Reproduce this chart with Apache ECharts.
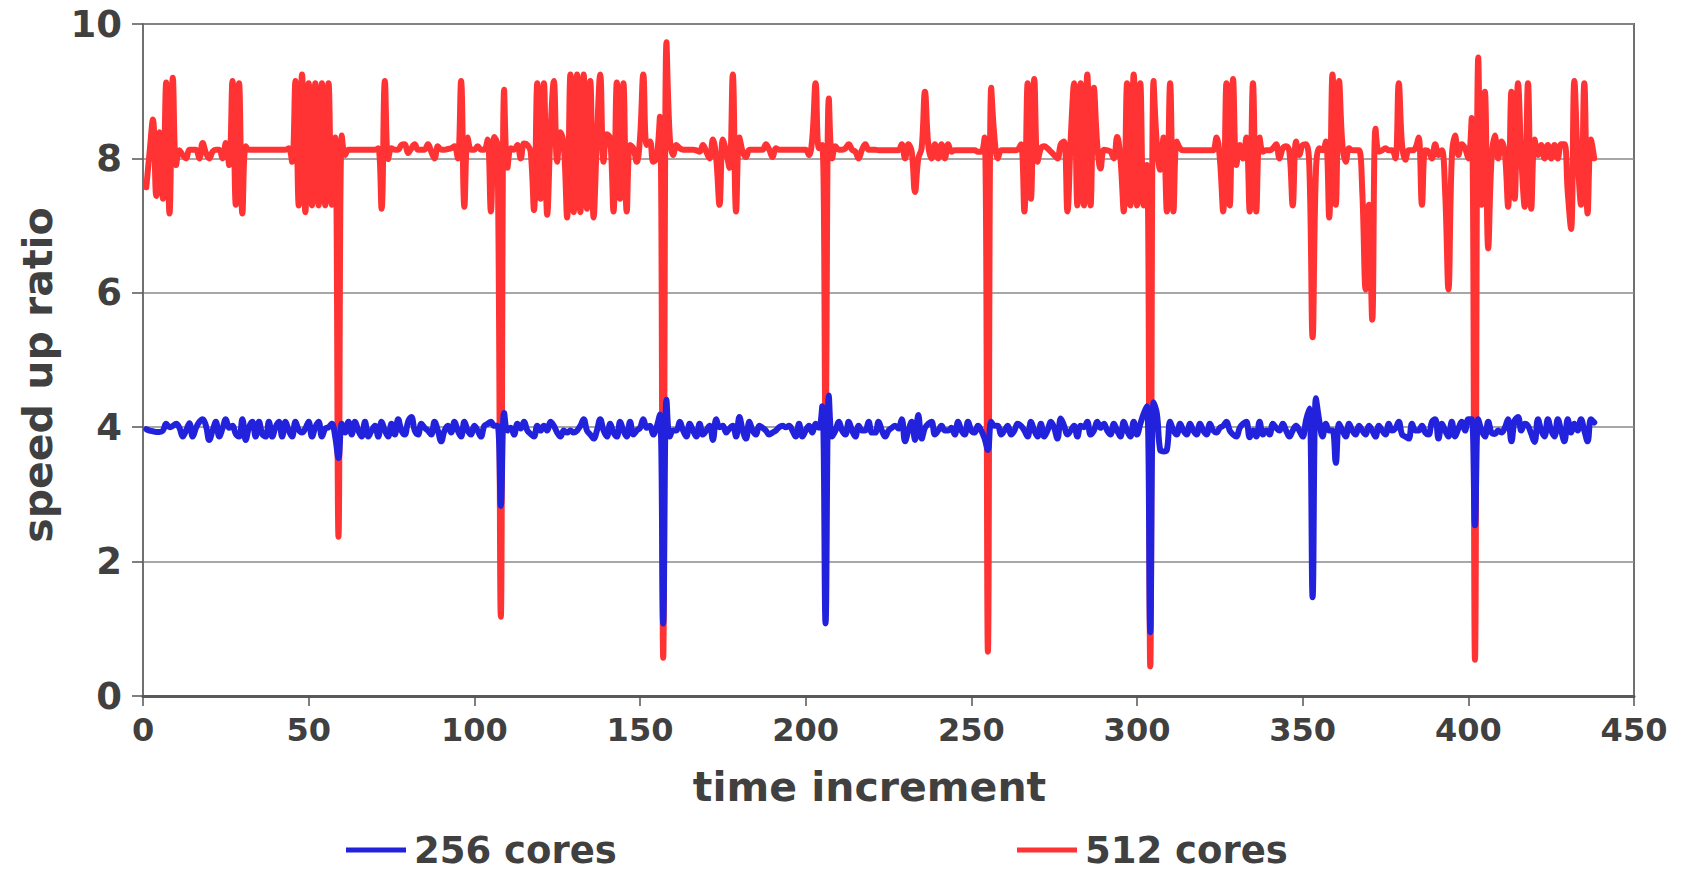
<!DOCTYPE html>
<html>
<head>
<meta charset="utf-8">
<title>speed up ratio</title>
<script src="https://cdn.jsdelivr.net/npm/echarts@6.0.0/dist/echarts.min.js"></script>
<style>
  html, body { margin: 0; padding: 0; background: #fff; }
  #chart { width: 1683px; height: 872px; }
</style>
</head>
<body>
<div id="chart"></div>
<script>
// series names / axis labels
var seriesNames = ['256 cores', '512 cores'];
var xTicks = [0, 50, 100, 150, 200, 250, 300, 350, 400, 450];
var yTicks = [0, 2, 4, 6, 8, 10];

// speed up ratio per time increment (1..438)
var cores256 = [
  3.97, 3.95, 3.94, 3.93, 3.93, 3.95, 4.05, 4.0, 4.02, 4.05,
  3.99, 3.86, 3.95, 4.06, 3.86, 3.99, 4.08, 4.12, 4.02, 3.81,
  3.95, 4.08, 3.86, 3.98, 4.12, 3.99, 4.02, 3.9, 3.86, 4.12,
  3.81, 4.0, 4.08, 3.86, 4.08, 3.9, 3.86, 4.08, 3.86, 4.0,
  4.08, 3.86, 4.08, 3.95, 3.86, 4.08, 3.96, 3.92, 3.98, 4.08,
  3.86, 4.0, 4.08, 3.86, 3.98, 4.0, 4.05, 3.86, 3.54, 4.05,
  3.92, 4.08, 3.89, 4.08, 3.95, 3.86, 4.08, 3.86, 3.95, 4.02,
  3.86, 4.08, 3.95, 3.86, 4.05, 3.89, 4.12, 3.95, 3.89, 4.08,
  4.15, 3.95, 3.89, 4.05, 3.99, 3.95, 3.89, 4.08, 3.95, 3.79,
  3.95, 4.02, 3.92, 4.08, 3.95, 3.86, 4.08, 3.95, 3.89, 4.02,
  3.95, 3.86, 4.02, 4.05, 4.08, 4.02, 4.02, 2.83, 4.21, 3.95,
  3.99, 3.89, 4.05, 3.98, 4.08, 3.95, 3.9, 3.86, 4.02, 3.95,
  4.02, 3.95, 4.08, 4.02, 3.92, 3.86, 3.95, 3.92, 3.95, 3.92,
  3.95, 4.02, 4.12, 3.95, 3.89, 3.83, 3.95, 4.12, 3.95, 3.86,
  4.05, 3.92, 3.86, 4.08, 3.95, 3.86, 4.08, 3.89, 3.95, 3.99,
  4.12, 3.99, 4.02, 3.89, 4.0, 4.19, 1.08, 4.41, 3.86, 3.95,
  3.95, 4.08, 3.95, 3.86, 4.05, 3.95, 3.86, 4.05, 3.89, 3.95,
  4.02, 3.81, 4.12, 4.0, 4.02, 3.92, 3.98, 4.02, 3.86, 4.15,
  3.95, 3.83, 4.08, 3.95, 3.89, 4.02, 3.99, 3.95, 3.89, 3.92,
  3.95, 4.0, 4.02, 4.0, 4.02, 3.95, 3.86, 4.05, 3.86, 3.95,
  4.02, 3.92, 4.05, 3.99, 4.31, 1.08, 4.47, 3.86, 3.95, 4.08,
  3.95, 3.89, 4.08, 3.95, 3.86, 4.02, 3.95, 3.95, 4.08, 3.92,
  3.92, 4.08, 3.95, 3.86, 3.95, 3.99, 4.02, 3.98, 4.12, 3.79,
  3.95, 4.08, 3.81, 4.18, 3.83, 3.99, 4.05, 4.08, 3.89, 3.95,
  4.02, 3.95, 3.95, 3.99, 3.89, 4.08, 3.95, 3.89, 4.08, 3.95,
  3.92, 4.02, 3.95, 3.83, 3.66, 4.08, 4.02, 4.02, 3.89, 3.95,
  4.02, 3.89, 3.95, 4.05, 4.02, 3.95, 3.86, 4.08, 3.95, 3.86,
  4.05, 3.86, 3.95, 4.08, 3.99, 3.83, 4.13, 4.02, 3.89, 3.95,
  4.02, 3.86, 4.02, 4.0, 4.08, 3.89, 3.95, 4.08, 3.99, 4.05,
  3.95, 3.89, 4.05, 3.95, 3.86, 4.08, 3.95, 3.86, 4.08, 3.89,
  4.05, 4.2, 4.31, 0.95, 4.37, 4.2, 3.66, 3.64, 3.66, 4.08,
  3.95, 3.89, 4.05, 3.95, 3.89, 4.05, 3.95, 3.89, 4.05, 3.95,
  3.89, 4.05, 3.95, 3.92, 3.99, 4.02, 4.08, 3.95, 3.89, 3.86,
  3.99, 4.05, 4.08, 3.85, 3.95, 3.86, 4.08, 3.89, 3.95, 3.89,
  4.05, 3.99, 3.95, 4.05, 3.95, 3.86, 3.95, 4.02, 3.95, 3.86,
  4.1, 4.28, 1.47, 4.43, 4.1, 3.86, 4.05, 3.95, 3.95, 3.47,
  4.05, 3.95, 3.86, 4.05, 3.95, 3.89, 4.02, 3.95, 3.89, 4.02,
  3.95, 3.86, 4.02, 3.95, 3.89, 4.05, 3.95, 3.98, 4.08, 3.89,
  3.86, 3.83, 4.05, 3.95, 3.95, 4.02, 3.92, 3.89, 4.08, 4.12,
  3.83, 4.05, 3.95, 3.86, 4.08, 3.86, 3.98, 4.08, 3.95, 4.12,
  4.12, 2.54, 4.12, 3.95, 3.86, 4.08, 3.92, 3.9, 3.95, 3.92,
  3.99, 4.12, 3.79, 4.1, 4.15, 3.95, 4.05, 4.02, 3.9, 3.78,
  4.12, 3.95, 3.86, 4.12, 3.95, 3.86, 4.12, 3.95, 3.79, 4.12,
  3.92, 4.05, 3.95, 4.12, 3.95, 3.79, 4.12, 4.07
];

var cores512 = [
  7.57, 8.1, 8.58, 7.44, 8.39, 7.4, 9.13, 7.18, 9.2, 7.9,
  8.12, 8.05, 8.0, 8.13, 8.13, 8.13, 8.0, 8.23, 8.08, 8.0,
  8.1, 8.13, 8.13, 8.0, 8.23, 7.9, 9.15, 7.31, 9.12, 7.18,
  8.18, 8.13, 8.13, 8.13, 8.13, 8.13, 8.13, 8.13, 8.13, 8.13,
  8.13, 8.13, 8.13, 8.15, 7.95, 9.15, 7.3, 9.25, 7.2, 9.12,
  7.3, 9.12, 7.3, 9.12, 7.3, 9.12, 7.31, 8.31, 2.37, 8.34,
  8.05, 8.13, 8.13, 8.13, 8.13, 8.13, 8.13, 8.13, 8.13, 8.13,
  8.15, 7.25, 9.15, 7.99, 8.15, 8.13, 8.13, 8.2, 8.21, 8.08,
  8.15, 8.21, 8.13, 8.13, 8.13, 8.21, 8.1, 8.0, 8.18, 8.13,
  8.13, 8.14, 8.15, 8.18, 8.0, 9.15, 7.28, 8.31, 8.13, 8.13,
  8.18, 8.13, 8.13, 8.28, 7.21, 8.32, 8.2, 1.18, 9.02, 7.86,
  8.15, 8.13, 8.2, 8.0, 8.22, 8.2, 8.1, 7.23, 9.12, 7.4,
  9.12, 7.16, 8.4, 9.15, 7.95, 8.39, 8.2, 7.12, 9.25, 7.2,
  9.25, 7.2, 9.25, 7.25, 9.15, 7.12, 8.3, 9.25, 7.95, 8.36,
  8.3, 7.21, 9.13, 7.4, 9.12, 7.21, 8.2, 8.15, 7.95, 8.3,
  9.25, 8.2, 8.25, 7.95, 8.0, 8.62, 0.57, 9.73, 8.3, 8.05,
  8.2, 8.15, 8.13, 8.13, 8.13, 8.13, 8.12, 8.1, 8.2, 8.1,
  8.0, 8.28, 8.0, 7.31, 8.28, 8.1, 7.86, 9.25, 7.21, 8.31,
  8.1, 8.02, 8.13, 8.13, 8.13, 8.13, 8.13, 8.21, 8.13, 8.02,
  8.15, 8.13, 8.13, 8.13, 8.13, 8.13, 8.13, 8.13, 8.13, 8.13,
  8.05, 8.3, 9.12, 8.15, 8.2, 4.1, 8.89, 8.0, 8.18, 8.13,
  8.13, 8.15, 8.21, 8.13, 8.1, 8.0, 8.13, 8.21, 8.13, 8.13,
  8.13, 8.12, 8.12, 8.12, 8.12, 8.12, 8.12, 8.12, 8.21, 8.0,
  8.21, 8.1, 7.5, 8.0, 8.15, 8.99, 8.2, 8.0, 8.21, 8.0,
  8.21, 8.0, 8.21, 8.1, 8.12, 8.12, 8.12, 8.12, 8.12, 8.12,
  8.12, 8.1, 8.1, 8.31, 0.66, 9.05, 8.3, 8.0, 8.12, 8.12,
  8.12, 8.12, 8.12, 8.13, 8.21, 7.21, 9.12, 7.4, 9.18, 7.95,
  8.15, 8.18, 8.15, 8.1, 8.05, 8.0, 8.21, 8.25, 7.21, 8.3,
  9.12, 7.3, 9.12, 7.3, 9.25, 7.3, 9.05, 8.2, 7.85, 8.13,
  8.12, 8.1, 8.0, 8.32, 8.0, 7.21, 9.12, 7.3, 9.25, 7.3,
  9.12, 7.3, 7.9, 0.44, 9.15, 8.2, 7.83, 8.31, 7.21, 9.12,
  7.21, 8.25, 8.15, 8.12, 8.12, 8.12, 8.12, 8.12, 8.12, 8.12,
  8.12, 8.12, 8.12, 8.31, 8.0, 7.21, 9.12, 7.3, 9.18, 7.9,
  8.2, 8.0, 8.31, 7.21, 9.12, 7.21, 8.31, 8.1, 8.12, 8.12,
  8.15, 8.21, 8.0, 8.15, 8.18, 8.1, 7.3, 8.25, 8.05, 8.2,
  8.21, 7.9, 5.34, 7.8, 8.15, 8.12, 8.25, 7.12, 9.25, 7.31,
  9.15, 8.2, 7.95, 8.15, 8.12, 8.12, 8.12, 7.5, 6.05, 7.31,
  5.6, 8.44, 8.1, 8.12, 8.15, 8.12, 8.12, 8.0, 9.12, 8.2,
  7.98, 8.12, 8.12, 8.15, 8.31, 7.31, 8.12, 8.1, 8.0, 8.21,
  8.05, 8.12, 7.5, 6.05, 8.0, 8.34, 8.05, 8.21, 8.15, 8.0,
  8.6, 0.54, 9.5, 7.31, 8.99, 6.66, 8.0, 8.34, 8.0, 8.25,
  8.1, 7.28, 8.99, 7.4, 9.12, 8.0, 7.28, 9.12, 7.25, 8.28,
  8.05, 8.2, 8.0, 8.2, 8.0, 8.2, 8.0, 8.21, 8.21, 7.5,
  6.95, 9.15, 8.0, 7.31, 9.12, 7.18, 8.28, 8.0
];

var textColor = '#404040';
var fontFamily = '"DejaVu Sans", Verdana, sans-serif';

// pair each value with its time increment (1-based)
function toPoints(arr) {
	return arr.map(function (v, i) {
		return [i + 1, v];
	});
}

var legendText = {
	fontSize: 37,
	fontWeight: 'bold',
	color: textColor,
	fontFamily: fontFamily,
	lineHeight: 38,
	padding: [0, 0, 0, 3],
};

var myChart = echarts.init(document.getElementById('chart'), null, { renderer: 'svg' });
var option;

option = {
	animation: false,
	backgroundColor: '#ffffff',
	textStyle: { fontFamily: fontFamily },
	grid: {
		left: 143,
		right: 49,
		top: 24,
		bottom: 176,
		show: true,
		borderColor: '#707070',
		borderWidth: 2,
	},
	legend: [
		{
			data: [seriesNames[0]],
			left: 341,
			top: 826,
			icon: 'rect',
			itemWidth: 60,
			itemHeight: 5,
			textStyle: legendText,
		},
		{
			data: [seriesNames[1]],
			left: 1012,
			top: 826,
			icon: 'rect',
			itemWidth: 60,
			itemHeight: 5,
			textStyle: legendText,
		},
	],
	xAxis: {
		type: 'value',
		min: xTicks[0],
		max: xTicks[xTicks.length - 1],
		interval: 50,
		name: 'time increment',
		nameLocation: 'middle',
		nameGap: 70,
		nameTextStyle: {
			fontSize: 41,
			fontWeight: 'bold',
			color: textColor,
			fontFamily: fontFamily,
			padding: [0, 38, 0, 0],
		},
		axisLine: { show: true, lineStyle: { color: '#5a5a5a', width: 3 } },
		axisTick: { show: true, length: 10, lineStyle: { color: '#555', width: 1.5 } },
		axisLabel: {
			fontSize: 32,
			fontWeight: 'bold',
			color: textColor,
			fontFamily: fontFamily,
			margin: 18,
		},
		splitLine: { show: false },
	},
	yAxis: {
		type: 'value',
		min: yTicks[0],
		max: yTicks[yTicks.length - 1],
		interval: 2,
		name: 'speed up ratio',
		nameLocation: 'middle',
		nameGap: 85,
		nameTextStyle: {
			fontSize: 41,
			fontWeight: 'bold',
			color: textColor,
			fontFamily: fontFamily,
			padding: [0, 30, 0, 0],
		},
		axisLine: { show: true, lineStyle: { color: '#707070', width: 2 } },
		axisTick: { show: true, length: 11, lineStyle: { color: '#555', width: 1.5 } },
		axisLabel: {
			fontSize: 37,
			fontWeight: 'bold',
			color: textColor,
			fontFamily: fontFamily,
			margin: 21,
		},
		splitLine: { show: true, lineStyle: { color: '#8a8a8a', width: 1.5 } },
	},
	series: [
		{
			name: seriesNames[1],
			type: 'line',
			data: toPoints(cores512),
			smooth: 0.4,
			symbol: 'none',
			color: '#ff3333',
			lineStyle: { color: '#ff3333', width: 6, cap: 'round', join: 'round' },
			z: 2,
		},
		{
			name: seriesNames[0],
			type: 'line',
			data: toPoints(cores256),
			smooth: 0.4,
			symbol: 'none',
			color: '#2222dd',
			lineStyle: { color: '#2222dd', width: 6, cap: 'round', join: 'round' },
			z: 3,
		},
	],
};

option && myChart.setOption(option);
</script>
</body>
</html>
